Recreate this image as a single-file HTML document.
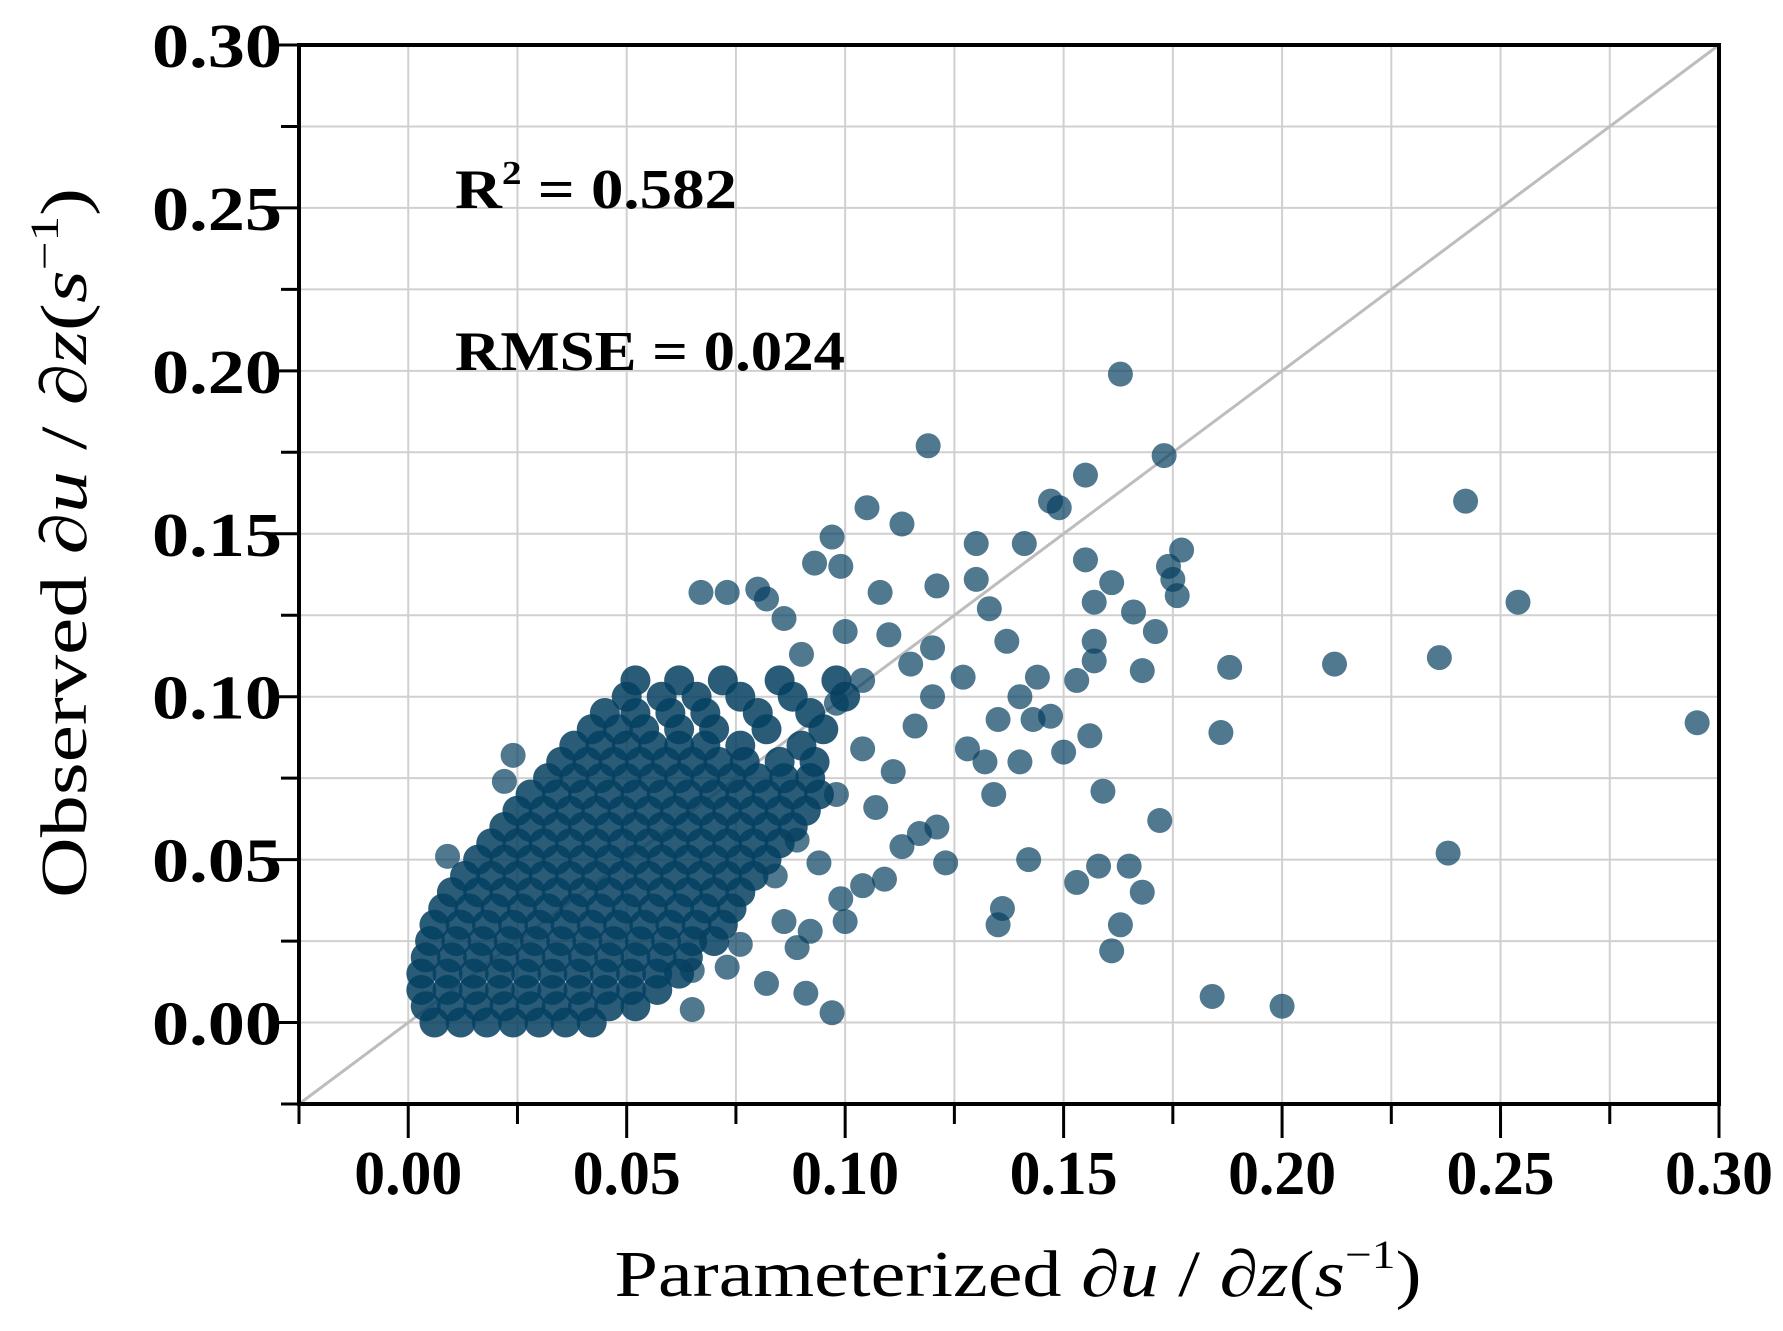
<!DOCTYPE html>
<html><head><meta charset="utf-8"><style>
html,body{margin:0;padding:0;background:#fff;}
svg{display:block;}
svg text{font-family:"Liberation Serif","Times New Roman",Times,serif;}
</style></head><body>
<svg id="chart" width="1783" height="1331" viewBox="0 0 1783 1331" xmlns="http://www.w3.org/2000/svg">
<g id="grid"></g>
<line id="diag" stroke="#bdbdbd" stroke-width="3"/>
<g id="pts"></g>
<g id="axes"></g>
<text x="455" y="208" font-size="56" font-weight="bold" textLength="282" lengthAdjust="spacingAndGlyphs">R<tspan font-size="34" dy="-24">2</tspan><tspan dy="24"> = 0.582</tspan></text>
<text x="455" y="370" font-size="56" font-weight="bold" textLength="390" lengthAdjust="spacingAndGlyphs">RMSE = 0.024</text>
<text x="1018" y="1296" font-size="66" text-anchor="middle" textLength="807" lengthAdjust="spacingAndGlyphs">Parameterized ∂<tspan font-style="italic">u</tspan> / ∂<tspan font-style="italic">z</tspan>(<tspan font-style="italic">s</tspan><tspan font-size="40" dy="-28">−1</tspan><tspan dy="28">)</tspan></text>
<text transform="translate(86,543) rotate(-90)" x="0" y="0" font-size="66" text-anchor="middle" textLength="710" lengthAdjust="spacingAndGlyphs">Observed ∂<tspan font-style="italic">u</tspan> / ∂<tspan font-style="italic">z</tspan>(<tspan font-style="italic">s</tspan><tspan font-size="40" dy="-28">−1</tspan><tspan dy="28">)</tspan></text>
</svg>
<script>
const xTickValues=[0,0.05,0.10,0.15,0.20,0.25,0.30];
const xTickLabels=["0.00","0.05","0.10","0.15","0.20","0.25","0.30"];
const yTickValues=[0,0.05,0.10,0.15,0.20,0.25,0.30];
const yTickLabels=["0.00","0.05","0.10","0.15","0.20","0.25","0.30"];
const minorTicks=[-0.025,0.025,0.075,0.125,0.175,0.225,0.275];
const outlierX=[0.163,0.119,0.173,0.242,0.147,0.149,0.155,0.105,0.113,0.097,0.130,0.141,0.177,0.174,0.254,0.212,0.236,0.188,0.168,0.295,0.186,0.238,0.172,0.159,0.156,0.150,0.142,0.158,0.153,0.165,0.168,0.163,0.161,0.136,0.135,0.184,0.200,0.091,0.097,0.082,0.065,0.067,0.073,0.080,0.082,0.093,0.099,0.108,0.121,0.130,0.171,0.175,0.176,0.157,0.161,0.166,0.155,0.157,0.157,0.153,0.144,0.140,0.135,0.143,0.147,0.132,0.140,0.134,0.133,0.137,0.127,0.120,0.116,0.111,0.107,0.117,0.123,0.121,0.113,0.104,0.109,0.099,0.100,0.092,0.086,0.089,0.076,0.073,0.065,0.110,0.115,0.104,0.098,0.090,0.086,0.100,0.120,0.128,0.104,0.098,0.089,0.084,0.094,0.009,0.024,0.022];
const outlierY=[0.199,0.177,0.174,0.160,0.160,0.158,0.168,0.158,0.153,0.149,0.147,0.147,0.145,0.140,0.129,0.110,0.112,0.109,0.108,0.092,0.089,0.052,0.062,0.071,0.088,0.083,0.050,0.048,0.043,0.048,0.040,0.030,0.022,0.035,0.030,0.008,0.005,0.009,0.003,0.012,0.004,0.132,0.132,0.133,0.130,0.141,0.140,0.132,0.134,0.136,0.120,0.136,0.131,0.129,0.135,0.126,0.142,0.117,0.111,0.105,0.106,0.100,0.093,0.093,0.094,0.080,0.080,0.070,0.127,0.117,0.106,0.100,0.091,0.077,0.066,0.058,0.049,0.060,0.054,0.042,0.044,0.038,0.031,0.028,0.031,0.023,0.024,0.017,0.016,0.119,0.110,0.105,0.098,0.113,0.124,0.120,0.115,0.084,0.084,0.070,0.056,0.045,0.049,0.051,0.082,0.074];
const coreRowY=[0.000,0.005,0.010,0.015,0.020,0.025,0.030,0.035,0.040,0.045,0.050,0.055,0.060,0.065,0.070,0.075,0.080,0.085,0.090,0.095,0.100,0.105];
const coreRowX=[
[0.006,0.012,0.018,0.024,0.030,0.036,0.042],
[0.004,0.010,0.016,0.022,0.028,0.034,0.040,0.046,0.052],
[0.003,0.009,0.015,0.021,0.027,0.033,0.039,0.045,0.051,0.057],
[0.003,0.009,0.015,0.021,0.027,0.033,0.039,0.045,0.051,0.057,0.062],
[0.004,0.010,0.016,0.022,0.028,0.034,0.040,0.046,0.052,0.058,0.064],
[0.005,0.011,0.017,0.023,0.029,0.035,0.041,0.047,0.053,0.059,0.065,0.070],
[0.006,0.012,0.018,0.024,0.030,0.036,0.042,0.048,0.054,0.060,0.066,0.072],
[0.008,0.014,0.020,0.026,0.032,0.038,0.044,0.050,0.056,0.062,0.068,0.074],
[0.010,0.016,0.022,0.028,0.034,0.040,0.046,0.052,0.058,0.064,0.070,0.076],
[0.013,0.019,0.025,0.031,0.037,0.043,0.049,0.055,0.061,0.067,0.073,0.079],
[0.016,0.022,0.028,0.034,0.040,0.046,0.052,0.058,0.064,0.070,0.076,0.082],
[0.019,0.025,0.031,0.037,0.043,0.049,0.055,0.061,0.067,0.073,0.079,0.085],
[0.022,0.028,0.034,0.040,0.046,0.052,0.058,0.064,0.070,0.076,0.082,0.088],
[0.025,0.031,0.037,0.043,0.049,0.055,0.061,0.067,0.073,0.079,0.085,0.091],
[0.028,0.034,0.040,0.046,0.052,0.058,0.064,0.070,0.076,0.082,0.088,0.094],
[0.032,0.038,0.044,0.050,0.056,0.062,0.068,0.074,0.080,0.086,0.092],
[0.035,0.041,0.047,0.053,0.059,0.065,0.071,0.077,0.085,0.093],
[0.038,0.044,0.050,0.056,0.062,0.068,0.076,0.090],
[0.042,0.048,0.054,0.062,0.070,0.082,0.095],
[0.045,0.052,0.060,0.068,0.080,0.092],
[0.050,0.058,0.066,0.076,0.088,0.100],
[0.052,0.062,0.072,0.085,0.098]
];
const xMin=-0.025,xMax=0.30,yMin=-0.025,yMax=0.30;
const L=299,R=1719,T=45,B=1104;
function sx(v){return L+(v-xMin)/(xMax-xMin)*(R-L);}
function sy(v){return B-(v-yMin)/(yMax-yMin)*(B-T);}
const NS="http://www.w3.org/2000/svg";
function mk(tag,attrs,parent){const e=document.createElementNS(NS,tag);for(const k in attrs)e.setAttribute(k,attrs[k]);parent.appendChild(e);return e;}
const grid=document.getElementById('grid'),axes=document.getElementById('axes'),pts=document.getElementById('pts');
const allGrid=xTickValues.concat(minorTicks);
allGrid.forEach(v=>{
  const gx=mk('line',{x1:sx(v),x2:sx(v),y1:T,y2:B,stroke:'#d0d0d0','stroke-width':2},grid);
  
  
  const gy=mk('line',{x1:L,x2:R,y1:sy(v),y2:sy(v),stroke:'#d0d0d0','stroke-width':2},grid);
  
  
});
const d=document.getElementById('diag');
d.setAttribute('x1',sx(-0.025));d.setAttribute('y1',sy(-0.025));d.setAttribute('x2',sx(0.30));d.setAttribute('y2',sy(0.30));
function dot(x,y,name,r,op){
  const c=mk('circle',{cx:sx(x),cy:sy(y),r:r,fill:'#053f60','fill-opacity':op},pts);
  
  
}
coreRowY.forEach((y,i)=>{coreRowX[i].forEach(x=>dot(x,y,'core-point',15,0.85));});
outlierX.forEach((x,i)=>dot(x,outlierY[i],'scatter-point',12.5,0.7));
const frame=mk('rect',{x:L,y:T,width:R-L,height:B-T,fill:'none',stroke:'#000','stroke-width':4},axes);


xTickValues.forEach((v,i)=>{
  const t=mk('line',{x1:sx(v),x2:sx(v),y1:B,y2:B+34,stroke:'#000','stroke-width':3},axes);
  
  
  const lb=mk('text',{x:sx(v),y:1194,'font-size':62,'font-weight':'bold','text-anchor':'middle',textLength:108,lengthAdjust:'spacingAndGlyphs'},axes);
  lb.textContent=xTickLabels[i];
  
  
});
yTickValues.forEach((v,i)=>{
  const t=mk('line',{x1:L-30,x2:L,y1:sy(v),y2:sy(v),stroke:'#000','stroke-width':3},axes);
  
  
  const lb=mk('text',{x:282,y:sy(v)+22,'font-size':62,'font-weight':'bold','text-anchor':'end',textLength:130,lengthAdjust:'spacingAndGlyphs'},axes);
  lb.textContent=yTickLabels[i];
  
  
});
minorTicks.forEach(v=>{
  const tx=mk('line',{x1:sx(v),x2:sx(v),y1:B,y2:B+20,stroke:'#000','stroke-width':3},axes);
  
  
  const ty=mk('line',{x1:L-18,x2:L,y1:sy(v),y2:sy(v),stroke:'#000','stroke-width':3},axes);
  
  
});
</script>
</body></html>
